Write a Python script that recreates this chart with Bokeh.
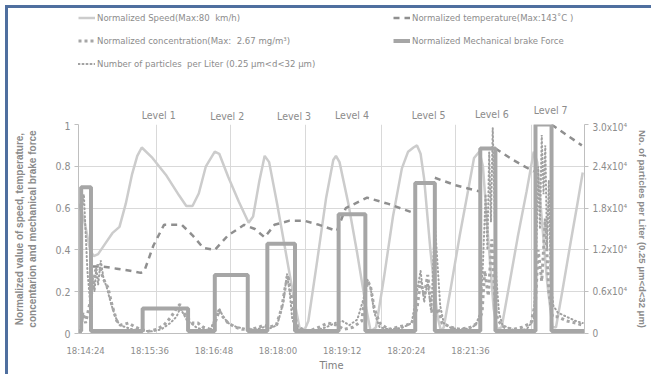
from bokeh.plotting import figure
from bokeh.layouts import column
from bokeh.models import Range1d, LinearAxis, FixedTicker, Legend, LegendItem, Label
from bokeh.embed import file_html
from bokeh.resources import INLINE

FONT = "'Liberation Sans Narrow', 'Arial Narrow', 'DejaVu Sans Condensed', sans-serif"
GREY_TXT = "#8c8c8c"

# ---- data (time in seconds after 18:14:24) ----
time_ticks = [0, 72, 144, 216, 288, 360, 432]
time_labels = ["18:14:24", "18:15:36", "18:16:48", "18:18:00", "18:19:12", "18:20:24", "18:21:36"]
vgrid_t = [79, 163, 247, 332, 415, 500]

level_names = ["Level 1", "Level 2", "Level 3", "Level 4", "Level 5", "Level 6", "Level 7"]
level_label_t = [82, 159, 234, 299, 385, 456, 522]
level_label_y = [1.045, 1.04, 1.043, 1.045, 1.045, 1.05, 1.07]

brake_start = [-5, 64, 145, 204, 284, 370, 443, 505]
brake_end = [6, 115, 182, 235, 314, 392, 460, 523]
brake_force = [0.70, 0.12, 0.28, 0.43, 0.57, 0.72, 0.885, 1.0]
brake_idle = 0.012

speed_t = [-8, -2, 5, 9, 14, 22, 30, 38, 45, 52, 58, 63, 75, 90, 105, 113, 120, 127, 135, 145,
           150, 160, 172, 183, 188, 195, 201, 206, 215, 225, 235, 240, 245, 250, 260, 270, 278,
           281, 285, 295, 305, 315, 320, 326, 335, 345, 355, 362, 368, 372, 376, 380, 387, 395,
           399, 402, 410, 420, 430, 436, 442, 446, 452, 458, 462, 467, 475, 485, 495, 503, 507,
           512, 518, 524, 528, 535, 545, 552, 558]
speed_v = [0.62, 0.55, 0.40, 0.37, 0.38, 0.43, 0.48, 0.51, 0.62, 0.76, 0.85, 0.89, 0.84, 0.76,
           0.66, 0.61, 0.61, 0.67, 0.80, 0.87, 0.86, 0.75, 0.63, 0.53, 0.56, 0.73, 0.85, 0.82,
           0.62, 0.38, 0.14, 0.03, 0.01, 0.06, 0.35, 0.65, 0.83, 0.85, 0.82, 0.62, 0.38, 0.12,
           0.01, 0.03, 0.27, 0.56, 0.79, 0.87, 0.89, 0.90, 0.86, 0.74, 0.40, 0.08, 0.01, 0.03,
           0.22, 0.47, 0.70, 0.84, 0.87, 0.80, 0.45, 0.12, 0.02, 0.03, 0.22, 0.46, 0.68, 0.87,
           0.82, 0.55, 0.25, 0.03, 0.03, 0.20, 0.45, 0.62, 0.77]

nan = float("nan")
temp_t = [8, 20, 35, 50, 62, 66, 76, 88, 100, 108, 120, 132, 145, 160, 178, 190, 201, 212, 229,
          245, 262, 282, 292, 316, 340, 366, 370, 392, 415, 442, 446, 460, 480, 503, 507, 523, 540, 557]
temp_v = [0.32, 0.32, 0.31, 0.30, 0.29, 0.30, 0.42, 0.52, 0.52, 0.52, 0.47, 0.41, 0.40, 0.47,
          0.52, 0.50, 0.46, 0.52, 0.54, 0.54, 0.52, 0.49, 0.60, 0.65, 0.62, 0.58, nan, 0.745,
          0.71, 0.68, nan, 0.885, 0.83, 0.775, nan, 1.0, 0.95, 0.90]

conc_t = [-6, -3, 0, 5, 8, 11, 14, 17, 20, 25, 30, 35, 40, 48, 56, 62, 70, 80, 88, 96, 102, 106,
          110, 115, 120, 126, 132, 140, 146, 150, 154, 160, 168, 176, 186, 195, 200, 206, 214,
          220, 224, 227, 230, 234, 238, 250, 262, 272, 282, 290, 300, 310, 314, 317, 320, 324,
          330, 340, 350, 360, 366, 372, 376, 380, 384, 388, 392, 396, 400, 410, 420, 432, 440,
          445, 448, 452, 456, 460, 463, 470, 480, 490, 500, 505, 508, 512, 516, 520, 524, 530,
          540, 550, 558]
conc_v = [0.0, 0.10, 0.05, 0.15, 0.22, 0.30, 0.33, 0.30, 0.26, 0.22, 0.13, 0.06, 0.04, 0.05,
          0.03, 0.02, 0.01, 0.02, 0.04, 0.08, 0.12, 0.14, 0.10, 0.07, 0.05, 0.05, 0.03, 0.02,
          0.06, 0.11, 0.08, 0.05, 0.03, 0.02, 0.02, 0.03, 0.04, 0.03, 0.04, 0.12, 0.22, 0.28,
          0.20, 0.10, 0.03, 0.01, 0.03, 0.05, 0.04, 0.02, 0.03, 0.06, 0.20, 0.25, 0.22, 0.12,
          0.05, 0.02, 0.03, 0.04, 0.05, 0.12, 0.25, 0.18, 0.28, 0.12, 0.08, 0.12, 0.05, 0.03,
          0.02, 0.03, 0.05, 0.10, 0.30, 0.18, 0.45, 0.12, 0.06, 0.03, 0.02, 0.03, 0.05, 0.15,
          0.40, 0.25, 0.55, 0.20, 0.08, 0.08, 0.06, 0.05, 0.04]

part_t = [-7, -5, -4, -2, 2, 6, 8, 10, 12, 14, 17, 20, 24, 28, 33, 38, 45, 52, 58, 64, 75, 85,
          95, 102, 106, 110, 114, 118, 124, 130, 140, 150, 154, 160, 170, 182, 192, 200, 206,
          215, 222, 226, 229, 232, 236, 245, 260, 270, 280, 288, 296, 305, 312, 316, 320, 324,
          330, 340, 355, 366, 372, 376, 380, 384, 388, 392, 395, 398, 402, 410, 420, 430, 438,
          443, 446, 449, 451, 453, 455, 457, 459, 461, 464, 468, 480, 495, 503, 506, 508, 510,
          512, 514, 516, 518, 520, 522, 525, 530, 540, 550, 558]
part_v = [300, 600, 18000, 20000, 9000, 3000, 8000, 6000, 9500, 7000, 10500, 8000, 6500, 4500,
          2500, 1200, 900, 600, 500, 400, 300, 600, 1500, 2400, 3600, 2800, 1800, 1500, 900, 600,
          500, 3600, 2500, 1500, 900, 600, 600, 900, 700, 1200, 4500, 8600, 6000, 2000, 900, 400,
          500, 900, 1500, 1800, 1200, 2000, 5000, 7800, 6500, 3000, 900, 600, 800, 1500, 6000,
          9000, 4500, 7500, 3000, 16000, 10000, 4000, 1500, 800, 600, 700, 1200, 3000, 10000,
          20000, 12000, 26000, 16000, 29500, 18000, 8000, 3000, 1200, 500, 600, 2000, 12000,
          24000, 15000, 28500, 20000, 27000, 12000, 22000, 8000, 4000, 3000, 2400, 1800, 1500]

# brake force path built from the level tables
brake_t = [-8]
brake_v = [brake_idle]
for s, e, f in zip(brake_start, brake_end, brake_force):
    brake_t += [s, s, e, e]
    brake_v += [brake_idle, f, f, brake_idle]
brake_t.append(560)
brake_v.append(brake_idle)

# ---- layout geometry ----
W = 643
LEFT, RIGHT = 70, 56
TOP_H = 113
MAIN_H = 253
MAIN_TOP, MAIN_BOTTOM = 3, 41
X0, X1 = -8, 560
frame_h = MAIN_H - MAIN_TOP - MAIN_BOTTOM
upp = 1.0 / frame_h                # data units per pixel (y)

style_line = dict(
    speed=dict(line_color="#cccccc", line_width=2.5),
    temp=dict(line_color="#8f8f8f", line_width=2.5, line_dash="6 5"),
    part=dict(line_color="#a0a0a0", line_width=2, line_dash="1 3", line_cap="round"),
    conc=dict(line_color="#a6a6a6", line_width=3, line_dash="3 3"),
    brake=dict(line_color="#a6a6a6", line_width=4),
)

# ---- main figure ----
p = figure(width=W, height=MAIN_H, output_backend="svg", toolbar_location=None,
           x_range=Range1d(X0, X1), y_range=Range1d(0, 1),
           min_border_left=LEFT, min_border_right=RIGHT,
           min_border_top=MAIN_TOP, min_border_bottom=MAIN_BOTTOM)
p.outline_line_color = None
p.extra_y_ranges = {"part": Range1d(0, 30000)}

ya = p.yaxis[0]
ya.ticker = FixedTicker(ticks=[0, 0.2, 0.4, 0.6, 0.8, 1.0])
ya.major_label_overrides = {0: "0", 0.2: "0.2", 0.4: "0.4", 0.6: "0.6", 0.8: "0.8", 1.0: "1"}
ya.axis_line_color = "#bfbfbf"
ya.major_tick_line_color = "#bfbfbf"
ya.major_tick_out = 4
ya.major_tick_in = 0
ya.minor_tick_line_color = None
ya.major_label_text_font = FONT
ya.major_label_text_font_size = "10.5px"
ya.major_label_text_color = GREY_TXT
ya.major_label_standoff = 4
ya.axis_label = "Normalized value of speed, temperature,\nconcentarion and mechanical brake force"
ya.axis_label_text_font = "Liberation Sans"
ya.axis_label_text_font_style = "bold"
ya.axis_label_text_font_size = "10px"
ya.axis_label_text_color = "#8a8a8a"
ya.axis_label_standoff = 14

xa = p.xaxis[0]
xa.ticker = FixedTicker(ticks=time_ticks)
xa.major_label_overrides = {t: l for t, l in zip(time_ticks, time_labels)}
xa.axis_line_color = "#bfbfbf"
xa.major_tick_line_color = None
xa.major_tick_out = 0
xa.major_tick_in = 0
xa.minor_tick_line_color = None
xa.major_label_text_font = FONT
xa.major_label_text_font_size = "9.5px"
xa.major_label_text_color = GREY_TXT
xa.major_label_standoff = 11
xa.axis_label = "Time"
xa.axis_label_text_font = FONT
xa.axis_label_text_font_style = "normal"
xa.axis_label_text_font_size = "11px"
xa.axis_label_text_color = "#808080"
xa.axis_label_standoff = 0

r_ticks = [0, 6000, 12000, 18000, 24000, 30000]
r_labels = ["0", "0.6x10\u2074", "1.2x10\u2074", "1.8x10\u2074", "2.4x10\u2074", "3.0x10\u2074"]
ra = LinearAxis(y_range_name="part", ticker=FixedTicker(ticks=r_ticks))
ra.major_label_overrides = {t: l for t, l in zip(r_ticks, r_labels)}
ra.axis_line_color = "#bfbfbf"
ra.major_tick_line_color = "#bfbfbf"
ra.major_tick_out = 4
ra.major_tick_in = 0
ra.minor_tick_line_color = None
ra.major_label_text_font = FONT
ra.major_label_text_font_size = "10px"
ra.major_label_text_color = GREY_TXT
ra.major_label_standoff = 4
ra.axis_label = "No. of particles per Liter (0.25 \u03bcm<d<32 \u03bcm)"
ra.axis_label_text_font = "Liberation Sans"
ra.axis_label_text_font_style = "bold"
ra.axis_label_text_font_size = "9.5px"
ra.axis_label_text_color = "#8a8a8a"
ra.axis_label_standoff = 7
p.add_layout(ra, "right")

p.ygrid.ticker = FixedTicker(ticks=[0.2, 0.4, 0.6, 0.8, 1.0])
p.ygrid.grid_line_color = "#d9d9d9"
p.xgrid.ticker = FixedTicker(ticks=vgrid_t)
p.xgrid.grid_line_color = "#d9d9d9"

p.line(speed_t, speed_v, **style_line["speed"])
p.line(temp_t, temp_v, **style_line["temp"])
p.line(part_t, part_v, y_range_name="part", **style_line["part"])
p.line(conc_t, conc_v, **style_line["conc"])
p.line(brake_t, brake_v, **style_line["brake"])

# ---- top strip: legend + level labels (frame aligns with the main frame) ----
top = figure(width=W, height=TOP_H, output_backend="svg", toolbar_location=None,
             x_range=Range1d(X0, X1),
             y_range=Range1d(1 + MAIN_TOP * upp, 1 + (MAIN_TOP + TOP_H) * upp),
             x_axis_type=None, y_axis_type=None,
             min_border_left=LEFT, min_border_right=RIGHT,
             min_border_top=0, min_border_bottom=0)
top.outline_line_color = None
top.xgrid.visible = False
top.ygrid.visible = False

for name, t, y in zip(level_names, level_label_t, level_label_y):
    top.add_layout(Label(x=t, y=y, text=name, text_font=FONT, text_font_size="10.5px",
                         text_color=GREY_TXT, text_align="center", text_baseline="middle"))

# legend swatches (drawn only in the legend; their line lies below the strip's range)
lr = {k: top.line([X0, X1], [0, 0], **v) for k, v in style_line.items()}
legend = Legend(items=[
    LegendItem(label="Normalized Speed(Max:80  km/h)", renderers=[lr["speed"]]),
    LegendItem(label="Normalized concentration(Max:  2.67 mg/m\u00b3)", renderers=[lr["conc"]]),
    LegendItem(label="Number of particles  per Liter (0.25 \u03bcm<d<32 \u03bcm)", renderers=[lr["part"]]),
    LegendItem(label="Normalized temperature(Max:143\u02daC )", renderers=[lr["temp"]]),
    LegendItem(label="Normalized Mechanical brake Force", renderers=[lr["brake"]]),
], ncols=2, location=(0, 49))
legend.label_text_font = FONT
legend.label_text_font_size = "9.5px"
legend.label_text_color = GREY_TXT
legend.glyph_width = 17
legend.glyph_height = 17
legend.label_height = 17
legend.label_width = 290
legend.label_standoff = 2
legend.spacing = 6
legend.padding = 0
legend.margin = 0
legend.border_line_alpha = 0
legend.background_fill_alpha = 0
top.add_layout(legend, "center")

layout = column(top, p, spacing=0)
layout.styles = {"border-left": "3px solid #4f6f9f", "border-top": "3px solid #4f6f9f",
                 "margin-left": "5px", "margin-top": "5px"}

open("out.html", "w").write(file_html(layout, INLINE))
